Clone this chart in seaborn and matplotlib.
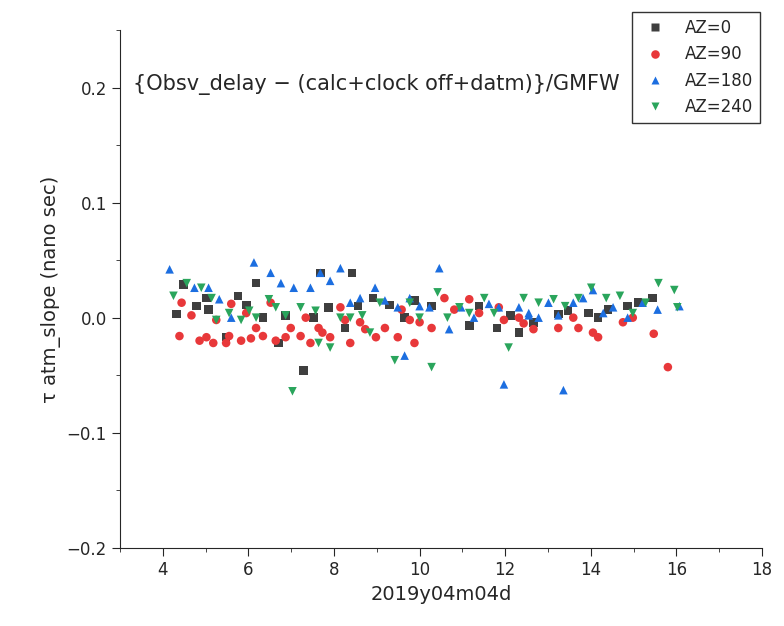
import matplotlib
matplotlib.use("Agg")
import matplotlib.pyplot as plt
import seaborn as sns
import pandas as pd
from matplotlib.ticker import MultipleLocator

x0 = [4.32,4.49,4.79,5.02,5.07,5.48,5.76,5.95,6.18,6.34,6.71,6.87,7.29,7.52,7.68,7.87,8.26,8.42,8.56,8.91,9.30,9.65,9.88,10.28,11.16,11.39,11.81,12.13,12.32,12.66,13.24,13.47,13.94,14.40,14.17,14.86,15.10,15.44]
y0 = [.003,.029,.010,.017,.007,-.017,.019,.011,.030,0.0,-.022,.002,-.046,0.0,.039,.009,-.009,.039,.010,.017,.011,0.0,.015,.010,-.007,.010,-.009,.002,-.013,-.004,.003,.006,.004,.007,0.0,.010,.013,.017]
x90 = [4.39,4.44,4.67,4.86,5.02,5.18,5.25,5.48,5.55,5.60,5.83,5.95,6.06,6.18,6.34,6.52,6.64,6.87,6.99,7.22,7.34,7.45,7.64,7.73,7.91,8.15,8.26,8.38,8.61,8.73,8.98,9.19,9.49,9.58,9.77,9.88,10.0,10.28,10.58,10.81,11.16,11.39,11.85,11.97,12.32,12.43,12.66,13.24,13.59,13.71,14.05,14.17,14.75,14.98,15.47,15.8]
y90 = [-.016,.013,.002,-.020,-.017,-.022,-.002,-.022,-.016,.012,-.020,.004,-.018,-.009,-.016,.013,-.020,-.017,-.009,-.016,0.0,-.022,-.009,-.013,-.017,.009,-.002,-.022,-.004,-.010,-.017,-.009,-.017,.007,-.002,-.022,-.004,-.009,.017,.007,.016,.004,.009,-.002,0.0,-.005,-.010,-.009,0.0,-.009,-.013,-.017,-.004,0.0,-.014,-.043]
x180 = [4.16,4.74,5.07,5.32,5.60,6.13,6.52,6.76,7.06,7.45,7.68,7.91,8.15,8.38,8.61,8.96,9.19,9.49,9.77,10.0,10.23,10.46,10.69,10.97,11.27,11.62,11.85,11.97,12.32,12.55,12.78,13.01,13.24,13.36,13.59,13.82,14.05,14.29,14.52,14.86,15.21,15.56,16.07,9.65,12.55]
y180 = [.042,.026,.026,.016,0.0,.048,.039,.030,.026,.026,.039,.032,.043,.013,.017,.026,.015,.009,.017,.010,.009,.043,-.010,.009,0.0,.012,.009,-.058,.009,.002,0.0,.013,.002,-.063,.013,.017,.024,.004,.009,0.0,.013,.007,.010,-.033,.004]
x240 = [4.25,4.56,4.90,5.14,5.25,5.55,5.83,6.02,6.18,6.48,6.64,6.87,7.03,7.22,7.57,7.64,7.91,8.15,8.38,8.66,8.84,9.07,9.42,9.77,10.0,10.28,10.42,10.65,10.93,11.16,11.51,11.74,12.08,12.43,12.78,13.13,13.40,13.71,14.01,14.36,14.68,14.98,15.28,15.58,15.95,16.02]
y240 = [.019,.030,.026,.017,-.002,.004,-.002,.006,0.0,.016,.009,.002,-.064,.009,.006,-.022,-.026,0.0,0.0,.002,-.013,.013,-.037,.013,0.0,-.043,.022,0.0,.009,.004,.017,.004,-.026,.017,.013,.016,.010,.017,.026,.017,.019,.004,.013,.030,.024,.009]

labels = ["AZ=0", "AZ=90", "AZ=180", "AZ=240"]
df = pd.concat([
    pd.DataFrame({"t": x0, "v": y0, "az": labels[0]}),
    pd.DataFrame({"t": x90, "v": y90, "az": labels[1]}),
    pd.DataFrame({"t": x180, "v": y180, "az": labels[2]}),
    pd.DataFrame({"t": x240, "v": y240, "az": labels[3]}),
])

sns.set_style("ticks")
plt.rcParams['font.family'] = ['DejaVu Sans']
fig = plt.figure(figsize=(7.84, 6.26), dpi=100)
ax = fig.add_axes([0.153, 0.125, 0.819, 0.827])
pal = {"AZ=0": "#3f3f3f", "AZ=90": "#e8383a", "AZ=180": "#1c6ee0", "AZ=240": "#2aa55c"}
mk = {"AZ=0": "s", "AZ=90": "o", "AZ=180": "^", "AZ=240": "v"}
sns.scatterplot(data=df, x="t", y="v", hue="az", style="az", palette=pal, markers=mk,
                s=38, edgecolor="none", ax=ax)
ax.set_xlim(3, 18)
ax.set_ylim(-0.2, 0.25)
ax.set_xticks([4, 6, 8, 10, 12, 14, 16, 18])
ax.set_yticks([-0.2, -0.1, 0.0, 0.1, 0.2])
ax.set_yticklabels(["\u22120.2", "\u22120.1", "0.0", "0.1", "0.2"])
ax.xaxis.set_minor_locator(MultipleLocator(1))
ax.yaxis.set_minor_locator(MultipleLocator(0.05))
ax.tick_params(which="major", direction="out", length=6, labelsize=12)
ax.tick_params(which="minor", direction="out", length=3)
sns.despine(ax=ax)
ax.set_xlabel("2019y04m04d", fontsize=14)
ax.set_ylabel("\u03c4 atm_slope (nano sec)", fontsize=14)
ax.text(0.02, 0.885, "{Obsv_delay \u2212 (calc+clock off+datm)}/GMFW", transform=ax.transAxes, fontsize=15)
leg = ax.legend(loc="upper right", bbox_to_anchor=(1.01, 1.05), frameon=True, fancybox=False,
                edgecolor="black", fontsize=12, title=None, handletextpad=0.8)
fig.savefig("out.png", dpi=100)
